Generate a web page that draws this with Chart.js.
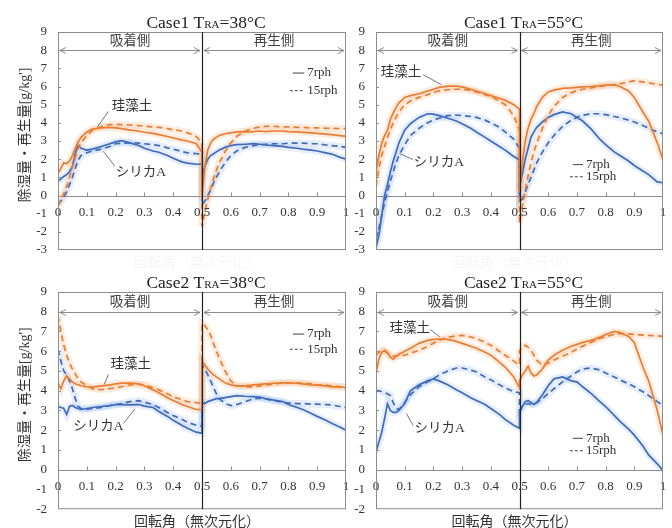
<!DOCTYPE html>
<html lang="ja">
<head>
<meta charset="utf-8">
<title>除湿量・再生量</title>
<script src="https://cdn.jsdelivr.net/npm/chart.js@4.4.1/dist/chart.umd.min.js"></script>
<style>
  html, body { margin: 0; padding: 0; background: #fff; }
  #wrap { position: relative; width: 672px; height: 528px; overflow: hidden; }
  #wrap canvas { position: absolute; left: 0; top: 0; }
</style>
</head>
<body>
<div id="wrap">
  <canvas id="p1" width="672" height="528"></canvas>
  <canvas id="p2" width="672" height="528"></canvas>
  <canvas id="p3" width="672" height="528"></canvas>
  <canvas id="p4" width="672" height="528"></canvas>
</div>
<script>
// rotation angle (dimensionless); 0.5 appears twice so the jump at the switch can be drawn
const rot = [0, 0.01, 0.02, 0.03, 0.04, 0.05, 0.06, 0.07, 0.08, 0.1, 0.12, 0.15, 0.18, 0.2, 0.22, 0.25, 0.28, 0.3, 0.33, 0.35, 0.38, 0.4, 0.43, 0.45, 0.48, 0.5,
             0.5, 0.51, 0.52, 0.53, 0.54, 0.55, 0.56, 0.58, 0.6, 0.62, 0.65, 0.68, 0.7, 0.72, 0.75, 0.78, 0.8, 0.83, 0.85, 0.88, 0.9, 0.93, 0.95, 0.98, 1];
const xTickLabels = ['0', '0.1', '0.2', '0.3', '0.4', '0.5', '0.6', '0.7', '0.8', '0.9', '1'];
const caseNames = ['Case1', 'Case1', 'Case2', 'Case2'];
const caseTemps = ['38', '55', '38', '55'];
const sideLabels = ['吸着側', '再生側'];
const materialLabels = ['珪藻土', 'シリカA'];
const speedLabels = ['7rph', '15rph'];

// Case1 TRA=38
const k7_c1_38 = [1.2, 1.5, 1.8, 1.75, 1.9, 2.2, 2.6, 2.95, 3.2, 3.5, 3.65, 3.72, 3.75, 3.72, 3.68, 3.6, 3.55, 3.48, 3.42, 3.35, 3.25, 3.18, 3.05, 3.0, 2.85, 2.4,
                  0.0, 1.6, 2.5, 2.9, 3.1, 3.2, 3.3, 3.4, 3.45, 3.5, 3.5, 3.52, 3.55, 3.52, 3.55, 3.55, 3.52, 3.5, 3.48, 3.45, 3.42, 3.38, 3.35, 3.3, 3.25];
const k15_c1_38 = [-0.6, -0.2, 0.1, 0.5, 1.0, 1.6, 2.1, 2.6, 2.9, 3.3, 3.6, 3.8, 3.9, 3.92, 3.9, 3.88, 3.85, 3.82, 3.78, 3.75, 3.68, 3.62, 3.55, 3.45, 3.25, 2.9,
                   -1.7, -0.9, -0.2, 0.4, 0.9, 1.4, 1.8, 2.4, 2.9, 3.25, 3.55, 3.7, 3.78, 3.8, 3.8, 3.78, 3.78, 3.75, 3.75, 3.72, 3.72, 3.7, 3.7, 3.68, 3.68];
const s7_c1_38 = [0.8, 0.9, 1.05, 1.15, 1.3, 1.6, 2.3, 2.75, 2.6, 2.5, 2.55, 2.7, 2.85, 2.95, 3.02, 2.9, 2.75, 2.6, 2.45, 2.38, 2.2, 2.05, 1.85, 1.78, 1.72, 1.72,
                  1.0, 1.6, 2.0, 2.2, 2.3, 2.4, 2.5, 2.65, 2.75, 2.8, 2.82, 2.85, 2.82, 2.78, 2.75, 2.7, 2.65, 2.6, 2.55, 2.5, 2.45, 2.35, 2.28, 2.1, 2.0];
const s15_c1_38 = [-0.5, -0.3, -0.1, 0.2, 0.6, 1.0, 1.5, 1.95, 2.2, 2.35, 2.45, 2.55, 2.7, 2.85, 2.88, 2.9, 2.88, 2.85, 2.8, 2.75, 2.62, 2.55, 2.42, 2.35, 2.3, 2.28,
                   -0.5, -0.3, 0.0, 0.3, 0.7, 1.0, 1.3, 1.8, 2.2, 2.45, 2.65, 2.75, 2.8, 2.82, 2.85, 2.85, 2.88, 2.88, 2.88, 2.85, 2.85, 2.78, 2.75, 2.7, 2.65];

// Case1 TRA=55
const k7_c1_55 = [1.3, 2.2, 2.9, 3.3, 3.6, 4.2, 4.55, 4.85, 5.1, 5.4, 5.5, 5.6, 5.75, 5.85, 5.95, 6.02, 6.02, 5.98, 5.85, 5.75, 5.6, 5.5, 5.35, 5.25, 5.0, 4.75,
                  0.3, 1.8, 3.0, 3.7, 4.2, 4.5, 4.9, 5.4, 5.7, 5.8, 5.9, 5.92, 5.95, 5.98, 6.0, 6.05, 6.08, 6.1, 6.0, 5.75, 5.4, 4.6, 4.1, 2.9, 1.95];
const k15_c1_55 = [0.5, 1.5, 2.2, 2.7, 3.2, 3.6, 4.0, 4.3, 4.6, 5.0, 5.2, 5.4, 5.55, 5.68, 5.75, 5.82, 5.85, 5.85, 5.78, 5.7, 5.55, 5.45, 5.2, 5.0, 4.4, 3.6,
                   -1.5, -0.6, 0.3, 1.1, 1.8, 2.4, 2.9, 3.7, 4.4, 4.9, 5.4, 5.65, 5.78, 5.85, 5.92, 6.0, 6.05, 6.1, 6.15, 6.25, 6.32, 6.25, 6.2, 6.12, 6.08];
const s7_c1_55 = [-2.9, -2.2, -1.1, 0.0, 0.6, 1.3, 1.9, 2.4, 2.9, 3.6, 3.95, 4.3, 4.5, 4.48, 4.4, 4.25, 4.1, 3.95, 3.7, 3.5, 3.2, 3.0, 2.7, 2.5, 2.15, 1.95,
                  0.5, 1.2, 2.0, 2.6, 3.2, 3.5, 3.75, 4.05, 4.3, 4.45, 4.6, 4.5, 4.3, 4.1, 3.65, 3.1, 2.8, 2.4, 2.2, 1.9, 1.65, 1.35, 1.15, 0.75, 0.7];
const s15_c1_55 = [-2.4, -1.8, -1.1, -0.4, 0.2, 0.8, 1.3, 1.8, 2.2, 2.8, 3.3, 3.7, 4.0, 4.15, 4.25, 4.4, 4.42, 4.4, 4.35, 4.3, 4.15, 4.0, 3.75, 3.5, 3.1, 2.6,
                   -0.3, -0.2, 0.2, 0.6, 1.0, 1.4, 1.8, 2.4, 2.9, 3.3, 3.8, 4.15, 4.3, 4.42, 4.5, 4.5, 4.45, 4.35, 4.28, 4.15, 4.05, 3.85, 3.7, 3.5, 3.4];

// Case2 TRA=38
const k7_c2_38 = [4.4, 4.1, 4.5, 4.75, 4.6, 4.45, 4.35, 4.3, 4.25, 4.2, 4.18, 4.25, 4.3, 4.35, 4.38, 4.38, 4.35, 4.25, 4.05, 3.9, 3.65, 3.5, 3.3, 3.2, 3.05, 3.05,
                  5.5, 5.3, 5.1, 4.95, 4.8, 4.7, 4.6, 4.4, 4.3, 4.25, 4.25, 4.3, 4.32, 4.35, 4.38, 4.4, 4.4, 4.38, 4.35, 4.3, 4.28, 4.25, 4.2, 4.2, 4.15];
const k15_c2_38 = [7.8, 7.0, 6.3, 5.8, 5.4, 5.1, 4.85, 4.6, 4.45, 4.25, 4.1, 4.05, 4.1, 4.15, 4.2, 4.3, 4.32, 4.3, 4.15, 4.05, 3.85, 3.7, 3.55, 3.45, 3.4, 3.35,
                   7.4, 7.3, 7.1, 6.8, 6.4, 6.0, 5.65, 5.0, 4.5, 4.25, 4.2, 4.2, 4.25, 4.28, 4.35, 4.38, 4.4, 4.4, 4.38, 4.35, 4.3, 4.28, 4.25, 4.2, 4.2];
const s7_c2_38 = [3.2, 3.15, 3.1, 2.8, 3.2, 3.25, 3.15, 3.1, 3.05, 3.1, 3.15, 3.2, 3.25, 3.3, 3.3, 3.28, 3.3, 3.22, 3.15, 2.95, 2.7, 2.5, 2.25, 2.1, 1.9, 1.85,
                  3.4, 3.35, 3.45, 3.5, 3.55, 3.6, 3.6, 3.65, 3.7, 3.75, 3.72, 3.7, 3.68, 3.6, 3.52, 3.45, 3.3, 3.15, 3.05, 2.85, 2.7, 2.5, 2.35, 2.15, 2.0];
const s15_c2_38 = [6.1, 5.5, 5.0, 4.8, 4.5, 4.1, 3.6, 3.2, 3.1, 3.05, 3.1, 3.15, 3.25, 3.3, 3.35, 3.45, 3.5, 3.42, 3.3, 3.15, 2.9, 2.75, 2.55, 2.4, 2.25, 2.2,
                   5.3, 5.1, 4.8, 4.5, 4.15, 3.85, 3.6, 3.35, 3.25, 3.3, 3.45, 3.6, 3.62, 3.58, 3.5, 3.42, 3.38, 3.35, 3.35, 3.32, 3.32, 3.3, 3.28, 3.2, 3.15];

// Case2 TRA=55
const k7_c2_55 = [4.9, 5.6, 5.95, 6.05, 5.95, 5.7, 5.6, 5.75, 5.85, 6.0, 6.15, 6.4, 6.55, 6.6, 6.62, 6.6, 6.5, 6.4, 6.25, 6.15, 5.95, 5.8, 5.45, 5.2, 4.7, 4.15,
                  4.5, 4.8, 5.0, 5.25, 4.9, 4.75, 4.8, 5.1, 5.55, 5.8, 6.05, 6.25, 6.35, 6.45, 6.55, 6.7, 6.85, 7.0, 6.95, 6.75, 6.45, 5.2, 4.5, 3.0, 1.75];
const k15_c2_55 = [5.8, 5.95, 6.05, 6.0, 5.9, 5.8, 5.75, 5.75, 5.78, 5.8, 5.9, 6.05, 6.25, 6.4, 6.55, 6.7, 6.78, 6.8, 6.72, 6.65, 6.45, 6.3, 6.0, 5.8, 5.5, 5.3,
                   6.0, 6.25, 6.3, 6.2, 6.05, 5.8, 5.55, 5.3, 5.4, 5.55, 5.75, 5.95, 6.1, 6.25, 6.45, 6.65, 6.75, 6.85, 6.9, 6.88, 6.85, 6.82, 6.8, 6.78, 6.75];
const s7_c2_55 = [0.9, 1.4, 1.9, 2.6, 3.35, 3.0, 2.9, 2.9, 3.0, 3.35, 4.0, 4.3, 4.5, 4.6, 4.5, 4.3, 4.05, 3.9, 3.65, 3.5, 3.3, 3.1, 2.8, 2.55, 2.25, 2.1,
                  2.9, 3.2, 3.45, 3.5, 3.4, 3.3, 3.4, 3.8, 4.25, 4.6, 4.7, 4.5, 4.45, 4.2, 3.85, 3.45, 3.2, 2.75, 2.45, 2.05, 1.75, 1.2, 0.75, 0.3, -0.05];
const s15_c2_55 = [4.0, 4.0, 3.95, 3.9, 3.85, 3.75, 3.4, 3.1, 3.05, 3.4, 3.8, 4.2, 4.45, 4.6, 4.8, 5.0, 5.15, 5.15, 5.05, 4.95, 4.7, 4.55, 4.3, 4.15, 3.95, 3.9,
                   3.0, 3.2, 3.3, 3.35, 3.3, 3.35, 3.4, 3.6, 3.85, 4.1, 4.45, 4.75, 4.95, 5.1, 5.15, 5.05, 4.9, 4.7, 4.55, 4.35, 4.2, 3.95, 3.75, 3.45, 3.25];

const ORANGE = 'rgb(232,126,52)';
const BLUE = 'rgb(64,106,186)';
const ORANGE_HALO = 'rgba(244,160,96,0.2)';
const BLUE_HALO = 'rgba(110,160,225,0.18)';
const SERIF = '"Liberation Serif", "Noto Sans CJK JP", serif';
const FRAME = '#8c8c8c';
const AXW = 40;

const panels = [
  { id: 'p1', box: { l: 58, t: 32, r: 346, b: 250 }, yMin: -3,
    k7: k7_c1_38, k15: k15_c1_38, s7: s7_c1_38, s15: s15_c1_38,
    legend: { x0: 0.815, x1: 0.855, y7: 6.74, y15: 5.77 },
    keiso: { tx: 0.257, ty: 4.9, x1: 0.175, y1: 4.63, x2: 0.138, y2: 3.8 },
    silica: { tx: 0.288, ty: 1.25, x1: 0.198, y1: 1.61, x2: 0.157, y2: 2.43 },
    yTitle: true, xTitleColor: 'rgba(0,0,0,0.04)' },
  { id: 'p2', box: { l: 376, t: 32, r: 663, b: 250 }, yMin: -3,
    k7: k7_c1_55, k15: k15_c1_55, s7: s7_c1_55, s15: s15_c1_55,
    legend: { x0: 0.686, x1: 0.721, y7: 1.7, y15: 1.03 },
    keiso: { tx: 0.087, ty: 6.77, x1: 0.164, y1: 6.65, x2: 0.228, y2: 6.1 },
    silica: { tx: 0.219, ty: 1.8, x1: 0.129, y1: 1.98, x2: 0.082, y2: 2.31 },
    yTitle: false, xTitleColor: 'rgba(0,0,0,0.04)' },
  { id: 'p3', box: { l: 58, t: 292, r: 346, b: 513 }, yMin: -2,
    k7: k7_c2_38, k15: k15_c2_38, s7: s7_c2_38, s15: s15_c2_38,
    legend: { x0: 0.815, x1: 0.855, y7: 6.87, y15: 6.1 },
    keiso: { tx: 0.253, ty: 5.32, x1: 0.175, y1: 4.83, x2: 0.161, y2: 4.33 },
    silica: { tx: 0.14, ty: 2.17, x1: 0.227, y1: 2.34, x2: 0.267, y2: 3.08 },
    yTitle: true, xTitleColor: '#333' },
  { id: 'p4', box: { l: 376, t: 292, r: 663, b: 513 }, yMin: -2,
    k7: k7_c2_55, k15: k15_c2_55, s7: s7_c2_55, s15: s15_c2_55,
    legend: { x0: 0.686, x1: 0.721, y7: 1.59, y15: 0.96 },
    keiso: { tx: 0.118, ty: 7.15, x1: 0.189, y1: 7.1, x2: 0.222, y2: 6.73 },
    silica: { tx: 0.222, ty: 2.09, x1: 0.129, y1: 2.25, x2: 0.106, y2: 2.84 },
    yTitle: false, xTitleColor: '#333' }
];

function pts(ys) { return rot.map((x, i) => ({ x: x, y: ys[i] })); }

function lineSet(ys, color, dashed) {
  return { data: pts(ys), borderColor: color, borderWidth: 1.7, borderDash: dashed ? [6, 4] : [],
           pointRadius: 0, tension: 0, order: 1 };
}
function haloSet(ys, color) {
  return { data: pts(ys), borderColor: color, borderWidth: 7, pointRadius: 0, tension: 0, order: 2 };
}

function seg(ctx, x1, y1, x2, y2) {
  ctx.beginPath(); ctx.moveTo(x1, y1); ctx.lineTo(x2, y2); ctx.stroke();
}
function arrow(ctx, x1, x2, yy) {
  seg(ctx, x1, yy, x2, yy);
  [[x1, 1], [x2, -1]].forEach(([xx, d]) => {
    ctx.beginPath(); ctx.moveTo(xx + d * 6, yy - 3); ctx.lineTo(xx, yy); ctx.lineTo(xx + d * 6, yy + 3); ctx.stroke();
  });
}

function makeDecor(p, idx) {
  return {
    id: 'decor' + idx,
    beforeDatasetsDraw(chart) {
      const { ctx, chartArea: a, scales: { x, y } } = chart;
      ctx.save();
      ctx.strokeStyle = FRAME; ctx.lineWidth = 1;
      const y0 = Math.round(y.getPixelForValue(0)) + 0.5;
      seg(ctx, a.left, y0, a.right, y0);
      for (let i = 1; i < 10; i++) {
        if (i === 5) continue;
        const xx = Math.round(x.getPixelForValue(i / 10)) + 0.5;
        seg(ctx, xx, y0, xx, y0 - 4);
      }
      for (let v = y.min + 1; v < y.max; v++) {
        const yy = Math.round(y.getPixelForValue(v)) + 0.5;
        seg(ctx, a.left, yy, a.left + 3, yy);
      }
      const ya = Math.round(y.getPixelForValue(8)) + 0.5;
      const xl = x.getPixelForValue(0), xm = x.getPixelForValue(0.5), xr = x.getPixelForValue(1);
      arrow(ctx, xl + 2, xm - 2, ya);
      arrow(ctx, xm + 2, xr - 2, ya);
      ctx.restore();
    },
    afterDatasetsDraw(chart) {
      const { ctx, chartArea: a, scales: { x, y } } = chart;
      const px = v => x.getPixelForValue(v), py = v => y.getPixelForValue(v);
      ctx.save();
      // x tick labels sit inside the plot, under the zero line
      ctx.fillStyle = '#333';
      ctx.font = '13px ' + SERIF;
      ctx.textAlign = 'center'; ctx.textBaseline = 'middle';
      const y0 = py(0);
      xTickLabels.forEach((lab, i) => ctx.fillText(lab, px(i / 10), y0 + 17));

      // frame and the switch line
      ctx.strokeStyle = FRAME; ctx.lineWidth = 1;
      ctx.strokeRect(a.left + 0.5, a.top + 0.5, a.width - 1, a.height - 1);
      ctx.strokeStyle = '#222'; ctx.lineWidth = 1.2;
      const xm = Math.round(px(0.5)) + 0.5;
      seg(ctx, xm, a.top, xm, a.bottom);

      // side labels
      ctx.fillStyle = '#444';
      ctx.font = '13.5px ' + SERIF;
      ctx.fillText(sideLabels[0], px(0.25), py(8) - 9);
      ctx.fillText(sideLabels[1], px(0.75), py(8) - 9);

      // legend
      const L = p.legend;
      ctx.strokeStyle = '#444'; ctx.lineWidth = 1;
      seg(ctx, px(L.x0), py(L.y7), px(L.x1), py(L.y7));
      ctx.setLineDash([3, 2]);
      seg(ctx, px(L.x0) - 3, py(L.y15), px(L.x1), py(L.y15));
      ctx.setLineDash([]);
      ctx.fillStyle = '#333';
      ctx.font = '13px ' + SERIF;
      ctx.textAlign = 'left';
      ctx.fillText(speedLabels[0], px(L.x1) + 3, py(L.y7));
      ctx.fillText(speedLabels[1], px(L.x1) + 3, py(L.y15));

      // material callouts
      ctx.textAlign = 'center';
      ctx.font = '13.5px ' + SERIF;
      ctx.strokeStyle = '#666'; ctx.lineWidth = 0.9;
      [[p.keiso, materialLabels[0]], [p.silica, materialLabels[1]]].forEach(([c, lab]) => {
        ctx.fillText(lab, px(c.tx), py(c.ty));
        seg(ctx, px(c.x1), py(c.y1), px(c.x2), py(c.y2));
      });

      // panel title: Case T(RA)=xx°C
      const big = '17.5px ' + SERIF, small = '11px ' + SERIF;
      const p1 = caseNames[idx] + ' T', p2 = 'RA', p3 = '=' + caseTemps[idx] + '°C';
      ctx.font = big;
      const w1 = ctx.measureText(p1).width, w3 = ctx.measureText(p3).width;
      ctx.font = small;
      const w2 = ctx.measureText(p2).width;
      let tx = (a.left + a.right) / 2 + 4 - (w1 + w2 + w3) / 2;
      const base = a.top - 4;
      ctx.fillStyle = '#222'; ctx.textAlign = 'left'; ctx.textBaseline = 'alphabetic';
      ctx.font = big; ctx.fillText(p1, tx, base); tx += w1;
      ctx.font = small; ctx.fillText(p2, tx, base); tx += w2;
      ctx.font = big; ctx.fillText(p3, tx, base);

      // axis titles
      ctx.font = '14px ' + SERIF;
      ctx.textAlign = 'center'; ctx.textBaseline = 'middle';
      if (p.yTitle) {
        ctx.save();
        ctx.translate(25, (a.top + a.bottom) / 2 - 6);
        ctx.rotate(-Math.PI / 2);
        ctx.fillStyle = '#333';
        ctx.fillText("除湿量・再生量[g/kg']", 0, 0);
        ctx.restore();
      }
      ctx.fillStyle = p.xTitleColor;
      ctx.fillText('回転角（無次元化）', (a.left + a.right) / 2 - 5, a.bottom + 13);
      ctx.restore();
    }
  };
}

panels.forEach((p, idx) => {
  new Chart(document.getElementById(p.id), {
    type: 'line',
    data: {
      datasets: [
        haloSet(p.k7, ORANGE_HALO), haloSet(p.k15, ORANGE_HALO),
        haloSet(p.s7, BLUE_HALO), haloSet(p.s15, BLUE_HALO),
        lineSet(p.k7, ORANGE, false), lineSet(p.k15, ORANGE, true),
        lineSet(p.s7, BLUE, false), lineSet(p.s15, BLUE, true)
      ]
    },
    options: {
      responsive: false,
      animation: false,
      devicePixelRatio: 1,
      layout: { padding: { left: p.box.l - AXW, top: p.box.t, right: 672 - p.box.r, bottom: 528 - p.box.b } },
      plugins: { legend: { display: false }, tooltip: { enabled: false } },
      scales: {
        x: { type: 'linear', min: 0, max: 1, display: false },
        y: {
          min: p.yMin, max: 9,
          afterFit: s => { s.width = AXW; },
          grid: { display: false, drawTicks: false },
          border: { display: false },
          ticks: { stepSize: 1, autoSkip: false, padding: 11, color: '#333', font: { family: SERIF, size: 13 } }
        }
      }
    },
    plugins: [makeDecor(p, idx)]
  });
});
</script>
</body>
</html>
